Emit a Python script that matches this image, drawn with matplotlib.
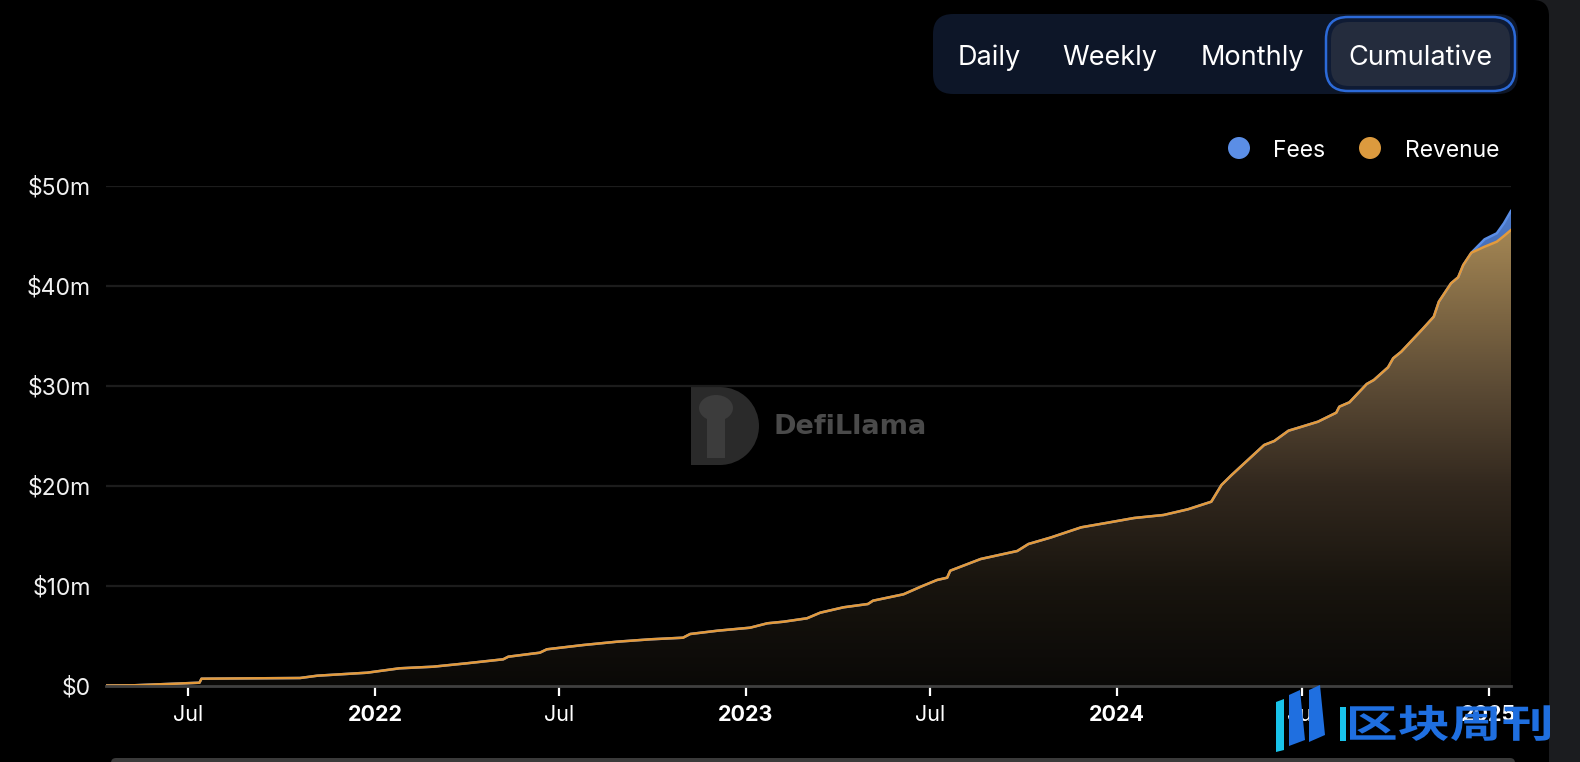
import matplotlib
matplotlib.use("Agg")
import matplotlib.pyplot as plt
import matplotlib.dates as mdates
from matplotlib.patches import FancyBboxPatch, Circle, Wedge, Rectangle, Polygon, Ellipse, PathPatch
from matplotlib.transforms import IdentityTransform, Affine2D
from matplotlib.colors import LinearSegmentedColormap
from matplotlib.textpath import TextPath
from matplotlib.font_manager import FontProperties
import numpy as np
import pandas as pd

# cumulative values in $m
dates = ["2021-04-11", "2021-05-08", "2021-06-10", "2021-07-12", "2021-07-14", "2021-10-19",
         "2021-11-05", "2021-12-24", "2022-01-25", "2022-02-27", "2022-04-01", "2022-05-07",
         "2022-05-12", "2022-06-12", "2022-06-19", "2022-07-25", "2022-08-27", "2022-09-29",
         "2022-10-31", "2022-11-07", "2022-12-04", "2023-01-05", "2023-01-22", "2023-02-07",
         "2023-03-02", "2023-03-15", "2023-04-07", "2023-05-01", "2023-05-06", "2023-06-05",
         "2023-06-22", "2023-07-08", "2023-07-18", "2023-07-21", "2023-08-20", "2023-09-25",
         "2023-10-06", "2023-10-28", "2023-11-14", "2023-11-27", "2023-12-23", "2024-01-18",
         "2024-02-16", "2024-03-11", "2024-04-03", "2024-04-13", "2024-04-23", "2024-05-09",
         "2024-05-25", "2024-06-04", "2024-06-18", "2024-07-01", "2024-07-17", "2024-08-04",
         "2024-08-07", "2024-08-17", "2024-09-03", "2024-09-10", "2024-09-24", "2024-09-29",
         "2024-10-07", "2024-10-28", "2024-11-08", "2024-11-13", "2024-11-25", "2024-12-02",
         "2024-12-07", "2024-12-15", "2024-12-28", "2025-01-09", "2025-01-16", "2025-01-23"]
revenue = [0.05, 0.07, 0.2, 0.33, 0.73, 0.8,
           1.03, 1.33, 1.77, 1.93, 2.27, 2.67,
           2.93, 3.33, 3.67, 4.1, 4.43, 4.67,
           4.83, 5.2, 5.53, 5.83, 6.27, 6.43,
           6.77, 7.33, 7.87, 8.2, 8.53, 9.17,
           9.93, 10.6, 10.83, 11.53, 12.7, 13.5,
           14.2, 14.85, 15.43, 15.87, 16.33, 16.8,
           17.1, 17.67, 18.43, 20.1, 21.1, 22.6,
           24.1, 24.5, 25.53, 25.93, 26.43, 27.33,
           27.93, 28.37, 30.2, 30.6, 31.87, 32.77,
           33.43, 35.7, 36.93, 38.43, 40.27, 40.87,
           42.1, 43.33, 43.93, 44.43, 45.0, 45.6]
# fees match revenue until mid Dec 2024, then split off
fees_tail = [44.67, 45.27, 46.27, 47.5]
fees = revenue[:-len(fees_tail)] + fees_tail

y_ticks = [0, 10, 20, 30, 40, 50]
y_labels = ["$0", "$10m", "$20m", "$30m", "$40m", "$50m"]
x_ticks = ["2021-07-01", "2022-01-01", "2022-07-01", "2023-01-01",
           "2023-07-01", "2024-01-01", "2024-07-01", "2025-01-01"]
x_labels = ["Jul", "2022", "Jul", "2023", "Jul", "2024", "Jul", "2025"]
buttons = ["Daily", "Weekly", "Monthly", "Cumulative"]

W, H = 1580, 762
FONT = ["Inter", "DejaVu Sans"]
REV = "#e39a3b"
FEE = "#5b8ee6"

x = pd.to_datetime(dates)
rev = np.array(revenue) * 1e6
fee = np.array(fees) * 1e6

fig = plt.figure(figsize=(W / 100, H / 100), dpi=100, facecolor="#1b1c1f")
px = IdentityTransform()

# black card with rounded top-right corner
fig.add_artist(FancyBboxPatch((-30, -30), 1549 + 30, H + 30, boxstyle="round,pad=0,rounding_size=16",
                              fc="black", ec="none", transform=px, zorder=-5))

ax = fig.add_axes([106 / W, (H - 686) / H, (1511 - 106) / W, 500 / H])
ax.patch.set_alpha(0)

# gradient fills clipped to the areas
x0, x1 = mdates.date2num(x[0]), mdates.date2num(x[-1])
grad = np.linspace(0, 1, 256).reshape(-1, 1)

fee_cmap = LinearSegmentedColormap.from_list("fee", [(0, "#0a0c14"), (0.6, "#2a3f66"), (1, "#4f7dcf")])
fee_poly = ax.fill_between(x, 0, fee, facecolor="none", edgecolor="none")
im_fee = ax.imshow(grad, extent=[x0, x1, 0, 48e6], origin="lower", aspect="auto", cmap=fee_cmap, zorder=1.5)
im_fee.set_clip_path(fee_poly.get_paths()[0], transform=ax.transData)

rev_cmap = LinearSegmentedColormap.from_list(
    "rev", [(0, "#0a0907"), (0.217, "#18140e"), (0.435, "#32281e"), (0.652, "#5c4b35"), (1, "#a58754")])
rev_poly = ax.fill_between(x, 0, rev, facecolor="none", edgecolor="none")
im_rev = ax.imshow(grad, extent=[x0, x1, 0, 46e6], origin="lower", aspect="auto", cmap=rev_cmap, zorder=2)
im_rev.set_clip_path(rev_poly.get_paths()[0], transform=ax.transData)

ax.plot(x, fee, color=FEE, lw=1.8, zorder=3)
ax.plot(x, rev, color=REV, lw=1.8, zorder=4)

ax.set_xlim(x[0], x[-1])
ax.set_ylim(0, 50e6)

for s in ["top", "right", "left"]:
    ax.spines[s].set_visible(False)
ax.spines["bottom"].set_color("#404040")
ax.spines["bottom"].set_linewidth(2)
ax.spines["bottom"].set_zorder(5)

ax.set_yticks(np.array(y_ticks) * 1e6)
ax.set_yticklabels(y_labels)
ax.yaxis.grid(True, color="#1c1c1c", lw=1.6)
ax.set_axisbelow(True)
ax.tick_params(axis="y", length=0, pad=11, labelsize=16.5, labelcolor="#f0f0f0")

ax.set_xticks(pd.to_datetime(x_ticks))
ax.set_xticklabels(x_labels)
ax.tick_params(axis="x", length=7, width=1.6, color="white", pad=7, labelsize=15.5, labelcolor="white")
for lab in ax.get_xticklabels() + ax.get_yticklabels():
    lab.set_family(FONT)
for lab in ax.get_xticklabels():
    if lab.get_text() != "Jul":
        lab.set_fontweight("bold")

# button group
fig.add_artist(FancyBboxPatch((933, H - 94), 1518 - 933, 80, boxstyle="round,pad=0,rounding_size=20",
                              fc="#0d1628", ec="none", transform=px, zorder=2))
fig.add_artist(FancyBboxPatch((1326, H - 91), 189, 74, boxstyle="round,pad=0,rounding_size=22",
                              fc="#0f1b34", ec="#2c6ad8", lw=1.8, transform=px, zorder=3))
fig.add_artist(FancyBboxPatch((1331, H - 86), 179, 64, boxstyle="round,pad=0,rounding_size=18",
                              fc="#242c3d", ec="none", transform=px, zorder=4))
for label, cx in zip(buttons, [989, 1110, 1252, 1420]):
    fig.text(cx, H - 58, label, transform=px, ha="center", va="center", fontsize=19.5,
             color="white", family=FONT, zorder=5)

# legend
fig.add_artist(Circle((1239, H - 148), 11, fc=FEE, ec="none", transform=px, zorder=3))
fig.text(1273, H - 151, "Fees", transform=px, ha="left", va="center", fontsize=16.5, color="white", family=FONT)
fig.add_artist(Circle((1370, H - 148), 11, fc="#dc9a3e", ec="none", transform=px, zorder=3))
fig.text(1405, H - 151, "Revenue", transform=px, ha="left", va="center", fontsize=16.5, color="white", family=FONT)

# DefiLlama watermark
fig.add_artist(Rectangle((691, H - 465), 30, 78, fc="#2a2a2a", ec="none", transform=px, zorder=-1))
fig.add_artist(Wedge((720, H - 426), 39, -90, 90, fc="#2a2a2a", ec="none", transform=px, zorder=-1))
fig.add_artist(Rectangle((707, H - 458), 18, 50, fc="#3c3c3c", ec="none", transform=px, zorder=-1))
fig.add_artist(Ellipse((716, H - 408), 34, 26, fc="#3c3c3c", ec="none", transform=px, zorder=-1))
fig.text(773, H - 427, "DefiLlama", transform=px, ha="left", va="center", fontsize=19.5,
         fontweight="bold", color="#4a4a4a", family="DejaVu Sans", zorder=-1)

# bottom scrollbar
fig.add_artist(FancyBboxPatch((111, -10), 1404, 14, boxstyle="round,pad=0,rounding_size=5",
                              fc="#3a3a3a", ec="none", transform=px, zorder=2))

# 区块周刊 logo
fig.add_artist(Polygon([(1276, H - 702), (1284, H - 699), (1284, H - 750), (1276, H - 752)],
                       fc="#19c3ea", ec="none", transform=px, zorder=6))
fig.add_artist(Polygon([(1289, H - 695), (1300, H - 690), (1305, H - 740), (1289, H - 746)],
                       fc="#1f6fe0", ec="none", transform=px, zorder=6))
fig.add_artist(Polygon([(1309, H - 690), (1320, H - 685), (1325, H - 735), (1309, H - 742)],
                       fc="#1f6fe0", ec="none", transform=px, zorder=6))
fig.add_artist(Rectangle((1340, H - 741), 6, 34, fc="#19c3ea", ec="none", transform=px, zorder=6))
logo = TextPath((0, 0), "区块周刊", size=40, prop=FontProperties(family="Noto Sans CJK SC", weight="bold"))
ext = logo.get_extents()
sx = (1550 - 1350) / ext.width
sy = (741 - 705) / ext.height
logo_tr = Affine2D().translate(-ext.x0, -ext.y0).scale(sx, sy).translate(1350, H - 741) + px
fig.add_artist(PathPatch(logo, fc="#1f6fe0", ec="none", transform=logo_tr, zorder=6))

fig.savefig("out.png", dpi=100, facecolor=fig.get_facecolor())
